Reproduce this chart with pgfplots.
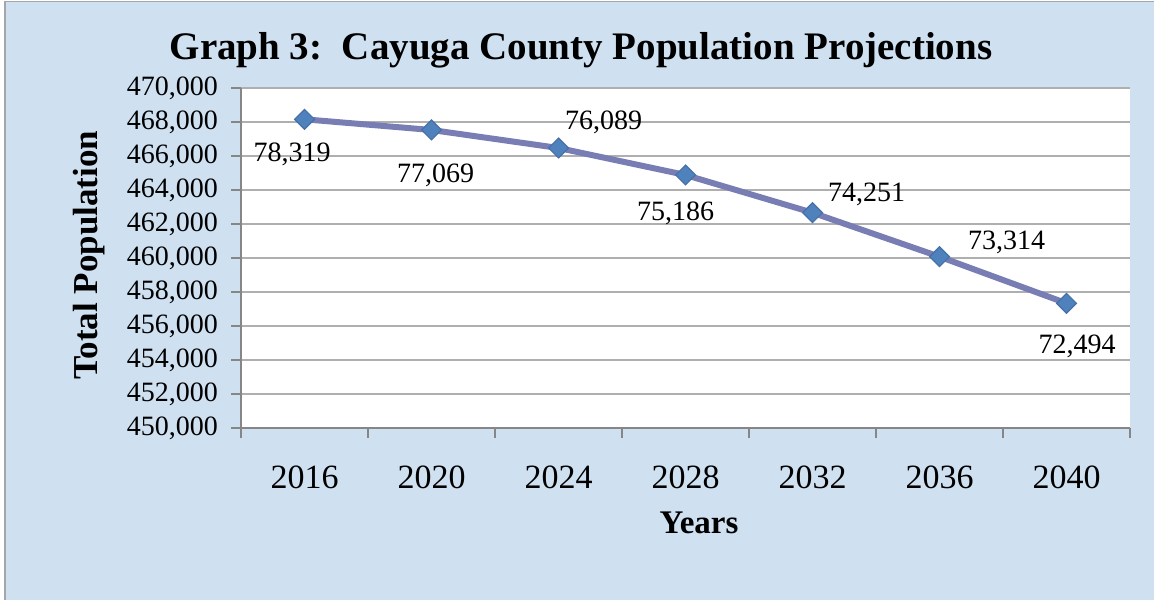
\documentclass[border=0pt]{standalone}
\usepackage{pgfplots}
\pgfplotsset{compat=1.18}
\usepackage{fontspec}
\setmainfont{Liberation Serif}

\definecolor{chartbg}{RGB}{207,224,241}
\definecolor{bordergray}{RGB}{165,165,170}
\definecolor{axisgray}{RGB}{134,134,134}
\definecolor{gridgray}{RGB}{175,175,175}
\definecolor{linepurple}{RGB}{120,125,180}
\definecolor{markblue}{RGB}{79,129,189}
\definecolor{markedge}{RGB}{70,112,168}

\begin{document}
\begin{tikzpicture}
\useasboundingbox (0,0) rectangle (577pt,300pt);
\fill[white] (0,0) rectangle (577pt,300pt);
\fill[chartbg] (2.5pt,0) rectangle (577pt,299.25pt);
\draw[bordergray, line width=0.8pt] (2.5pt,0) -- (2.5pt,299.25pt) -- (577pt,299.25pt);

\begin{axis}[
  at={(120.5pt,86pt)}, anchor=south west,
  scale only axis, width=444.5pt, height=170pt,
  xmin=-0.5, xmax=6.5, ymin=450000, ymax=470000,
  axis x line*=bottom, axis y line*=left,
  axis line style={-, draw=axisgray, line width=0.8pt},
  axis background/.style={fill=white},
  xtick={-0.5,0.5,...,6.5}, xticklabels={},
  extra x ticks={0,1,2,3,4,5,6},
  extra x tick labels={2016,2020,2024,2028,2032,2036,2040},
  extra x tick style={major tick length=0pt, grid=none},
  ytick={450000,452000,...,470000},
  ymajorgrids, grid style={draw=gridgray, line width=0.8pt},
  tick style={draw=axisgray, line width=0.8pt},
  tick align=outside, major tick length=5pt,
  scaled y ticks=false,
  yticklabel style={font=\fontsize{14}{16}\selectfont, anchor=east, xshift=-3pt,
    /pgf/number format/.cd, fixed, 1000 sep={,}, assume math mode=true},
  xticklabel style={font=\fontsize{17}{19}\selectfont, anchor=base, yshift=-30pt},
  clip=false,
]
\addplot[linepurple, line width=3pt, mark=square*, mark size=3.5pt,
  mark options={rotate=45, fill=markblue, draw=markedge, line width=0.6pt}]
  coordinates {(0,468159) (1,467530) (2,466471) (3,464883) (4,462665) (5,460077) (6,457336)};
\begin{scope}[every node/.style={font=\fontsize{14}{16}\selectfont}]
\node[xshift=-6.25pt, yshift=-17.5pt] at (axis cs:0,468159) {78,319};
\node[xshift=2pt, yshift=-22.5pt] at (axis cs:1,467530) {77,069};
\node[xshift=22.5pt, yshift=13pt] at (axis cs:2,466471) {76,089};
\node[xshift=-5pt, yshift=-19pt] at (axis cs:3,464883) {75,186};
\node[xshift=27pt, yshift=9.35pt] at (axis cs:4,462665) {74,251};
\node[xshift=33.5pt, yshift=7.25pt] at (axis cs:5,460077) {73,314};
\node[xshift=5.3pt, yshift=-21.7pt] at (axis cs:6,457336) {72,494};
\end{scope}
\end{axis}

\node[anchor=base, font=\bfseries\fontsize{19.5}{22}\selectfont] at (290.5pt,270.3pt)
  {Graph 3:\ \ Cayuga County Population Projections};
\node[anchor=base, font=\bfseries\fontsize{16.5}{19}\selectfont] at (349.5pt,33.3pt) {Years};
\node[anchor=base, rotate=90, font=\bfseries\fontsize{17.5}{20}\selectfont] at (48.5pt,172.5pt) {Total Population};
\end{tikzpicture}
\end{document}
